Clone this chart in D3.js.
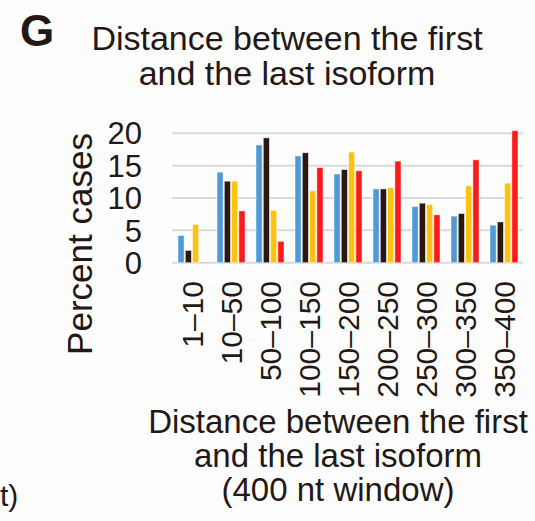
<!DOCTYPE html>
<html>
<head>
<meta charset="utf-8">
<script src="https://cdn.jsdelivr.net/npm/d3@7"></script>
<style>
  html, body { margin: 0; padding: 0; background: #fdfdfe; }
  svg { display: block; font-family: "Liberation Sans", Arial, sans-serif; }
</style>
</head>
<body>
<svg id="chart" width="535" height="521"></svg>
<script>
// Distance bins between the first and the last isoform (nt)
const categories = ["1–10", "10–50", "50–100", "100–150", "150–200", "200–250", "250–300", "300–350", "350–400"];
const seriesNames = ["s1", "s2", "s3", "s4"];
const seriesColors = ["#4f9ad6", "#2a1913", "#ffc30f", "#ff1a1a"];
// Percent of cases per bin, one array per series
const s1 = [4.2, 14.0, 18.2, 16.5, 13.7, 11.4, 8.7, 7.2, 5.8];
const s2 = [1.9, 12.6, 19.3, 17.0, 14.4, 11.4, 9.2, 7.6, 6.3];
const s3 = [5.9, 12.6, 8.1, 11.1, 17.1, 11.6, 9.0, 11.9, 12.3];
const s4 = [0.1, 8.0, 3.3, 14.7, 14.2, 15.7, 7.4, 15.9, 20.4];
const yTicks = [0, 5, 10, 15, 20];

const series = [s1, s2, s3, s4];
const rows = categories.map((c, i) => ({ cat: c, vals: series.map(s => s[i]) }));

const svg = d3.select("#chart");
const ink = "#231815";

const x0 = d3.scaleBand().domain(categories).range([172, 523]).padding(0);
const x1 = d3.scaleBand().domain(d3.range(series.length))
  .range([6, x0.bandwidth() - 5]).paddingInner(0.16);
const y = d3.scaleLinear().domain([0, 20]).range([262.7, 133.3]);

// horizontal grid
svg.append("g").selectAll("line").data(yTicks).join("line")
  .attr("x1", 172).attr("x2", 523)
  .attr("y1", d => y(d)).attr("y2", d => y(d))
  .attr("stroke", "#d9d9d9").attr("stroke-width", 2);

// bars
const groups = svg.append("g").selectAll("g").data(rows).join("g")
  .attr("transform", d => `translate(${x0(d.cat)},0)`);
groups.selectAll("rect").data(d => d.vals.map((v, k) => ({ v, k }))).join("rect")
  .attr("x", d => x1(d.k))
  .attr("width", x1.bandwidth())
  .attr("y", d => y(d.v))
  .attr("height", d => y(0) - y(d.v))
  .attr("fill", d => seriesColors[d.k])
  .attr("stroke", "#ffffff").attr("stroke-opacity", 0.6).attr("stroke-width", 0.8);

// y tick labels
svg.append("g").selectAll("text").data(yTicks).join("text")
  .attr("x", 142).attr("y", d => y(d))
  .attr("dy", "0.36em")
  .attr("text-anchor", "end")
  .attr("font-size", 31).attr("fill", ink)
  .text(d => d);

// x tick labels (rotated)
svg.append("g").selectAll("text").data(categories).join("text")
  .attr("transform", d => `translate(${x0(d) + x0.bandwidth() / 2 + 11},281) rotate(-90)`)
  .attr("text-anchor", "end")
  .attr("font-size", 30).attr("fill", ink)
  .text(d => d);

// y axis title
svg.append("text")
  .attr("transform", "translate(92,244) rotate(-90)")
  .attr("text-anchor", "middle")
  .attr("font-size", 35).attr("fill", ink)
  .text("Percent cases");

// panel letter
svg.append("text")
  .attr("x", 20).attr("y", 46)
  .attr("font-size", 44).attr("font-weight", "bold").attr("fill", ink)
  .text("G");

// chart title
const title = ["Distance between the first", "and the last isoform"];
svg.append("g").selectAll("text").data(title).join("text")
  .attr("x", 287).attr("y", (d, i) => 50 + i * 35)
  .attr("text-anchor", "middle")
  .attr("font-size", 34).attr("fill", ink)
  .text(d => d);

// x axis title
const xTitle = ["Distance between the first", "and the last isoform", "(400 nt window)"];
svg.append("g").selectAll("text").data(xTitle).join("text")
  .attr("x", 338).attr("y", (d, i) => 433 + i * 34)
  .attr("text-anchor", "middle")
  .attr("font-size", 33).attr("fill", ink)
  .text(d => d);

// fragment of neighbouring panel text
svg.append("text")
  .attr("x", 0).attr("y", 506)
  .attr("font-size", 30).attr("fill", ink)
  .text("t)");
</script>
</body>
</html>
